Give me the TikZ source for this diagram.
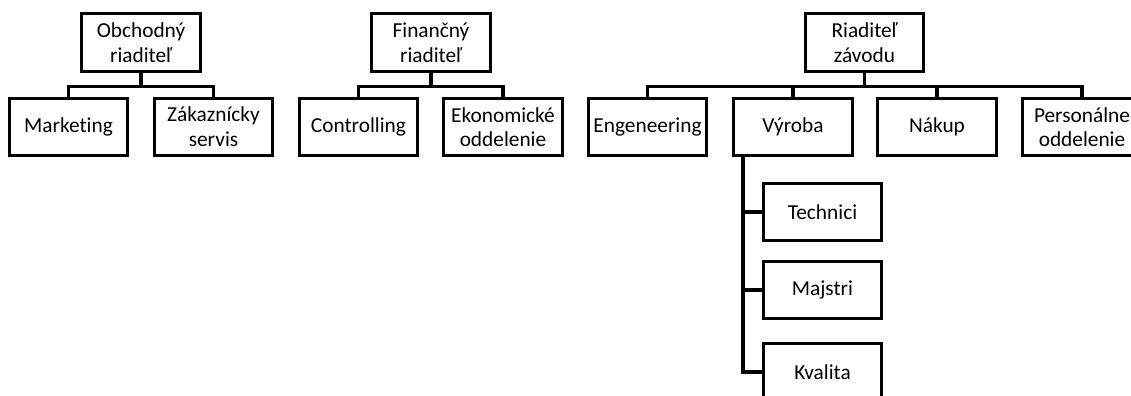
\documentclass[tikz,border=0pt]{standalone}
\usepackage{fontspec}
\setmainfont[Ligatures=NoCommon]{Carlito}
\begin{document}
\begin{tikzpicture}[x=0.75pt,y=-0.75pt,line width=2.4pt,
	box/.style={draw,rectangle,minimum width=89pt,minimum height=43pt,
		align=center,inner sep=1pt,font=\fontsize{16}{18.5}\selectfont}]
	\useasboundingbox (0,0) rectangle (1131,396);
	\path
	(141,42.5) node[box] (ob) {Obchodný\\riaditeľ}
	(68.5,127) node[box] (mk) {Marketing}
	(213.5,127) node[box] (zs) {Zákaznícky\\servis}
	(431,42.5) node[box] (fi) {Finančný\\riaditeľ}
	(358.5,127) node[box] (co) {Controlling}
	(503,127) node[box] (ek) {Ekonomické\\oddelenie}
	(864.5,42.5) node[box] (rz) {Riaditeľ\\závodu}
	(647.5,127) node[box] (en) {Engeneering}
	(793,127) node[box] (vy) {Výroba}
	(937,127) node[box] (na) {Nákup}
	(1082,127) node[box] (pe) {Personálne\\oddelenie}
	(822.5,212) node[box] (te) {Technici}
	(822.5,290) node[box] (ma) {Majstri}
	(822.5,372) node[box] (kv) {Kvalita}
	;
	\foreach \p/\c in {ob/mk,ob/zs,fi/co,fi/ek,rz/en,rz/vy,rz/na,rz/pe}
	\draw (\p.south) -- ++(0,14) -| (\c.north);
	\coordinate (vyb) at ([xshift=8.25pt]vy.south west);
	\foreach \c in {te,ma,kv}
	\draw (vyb) |- (\c.west);
\end{tikzpicture}
\end{document}
